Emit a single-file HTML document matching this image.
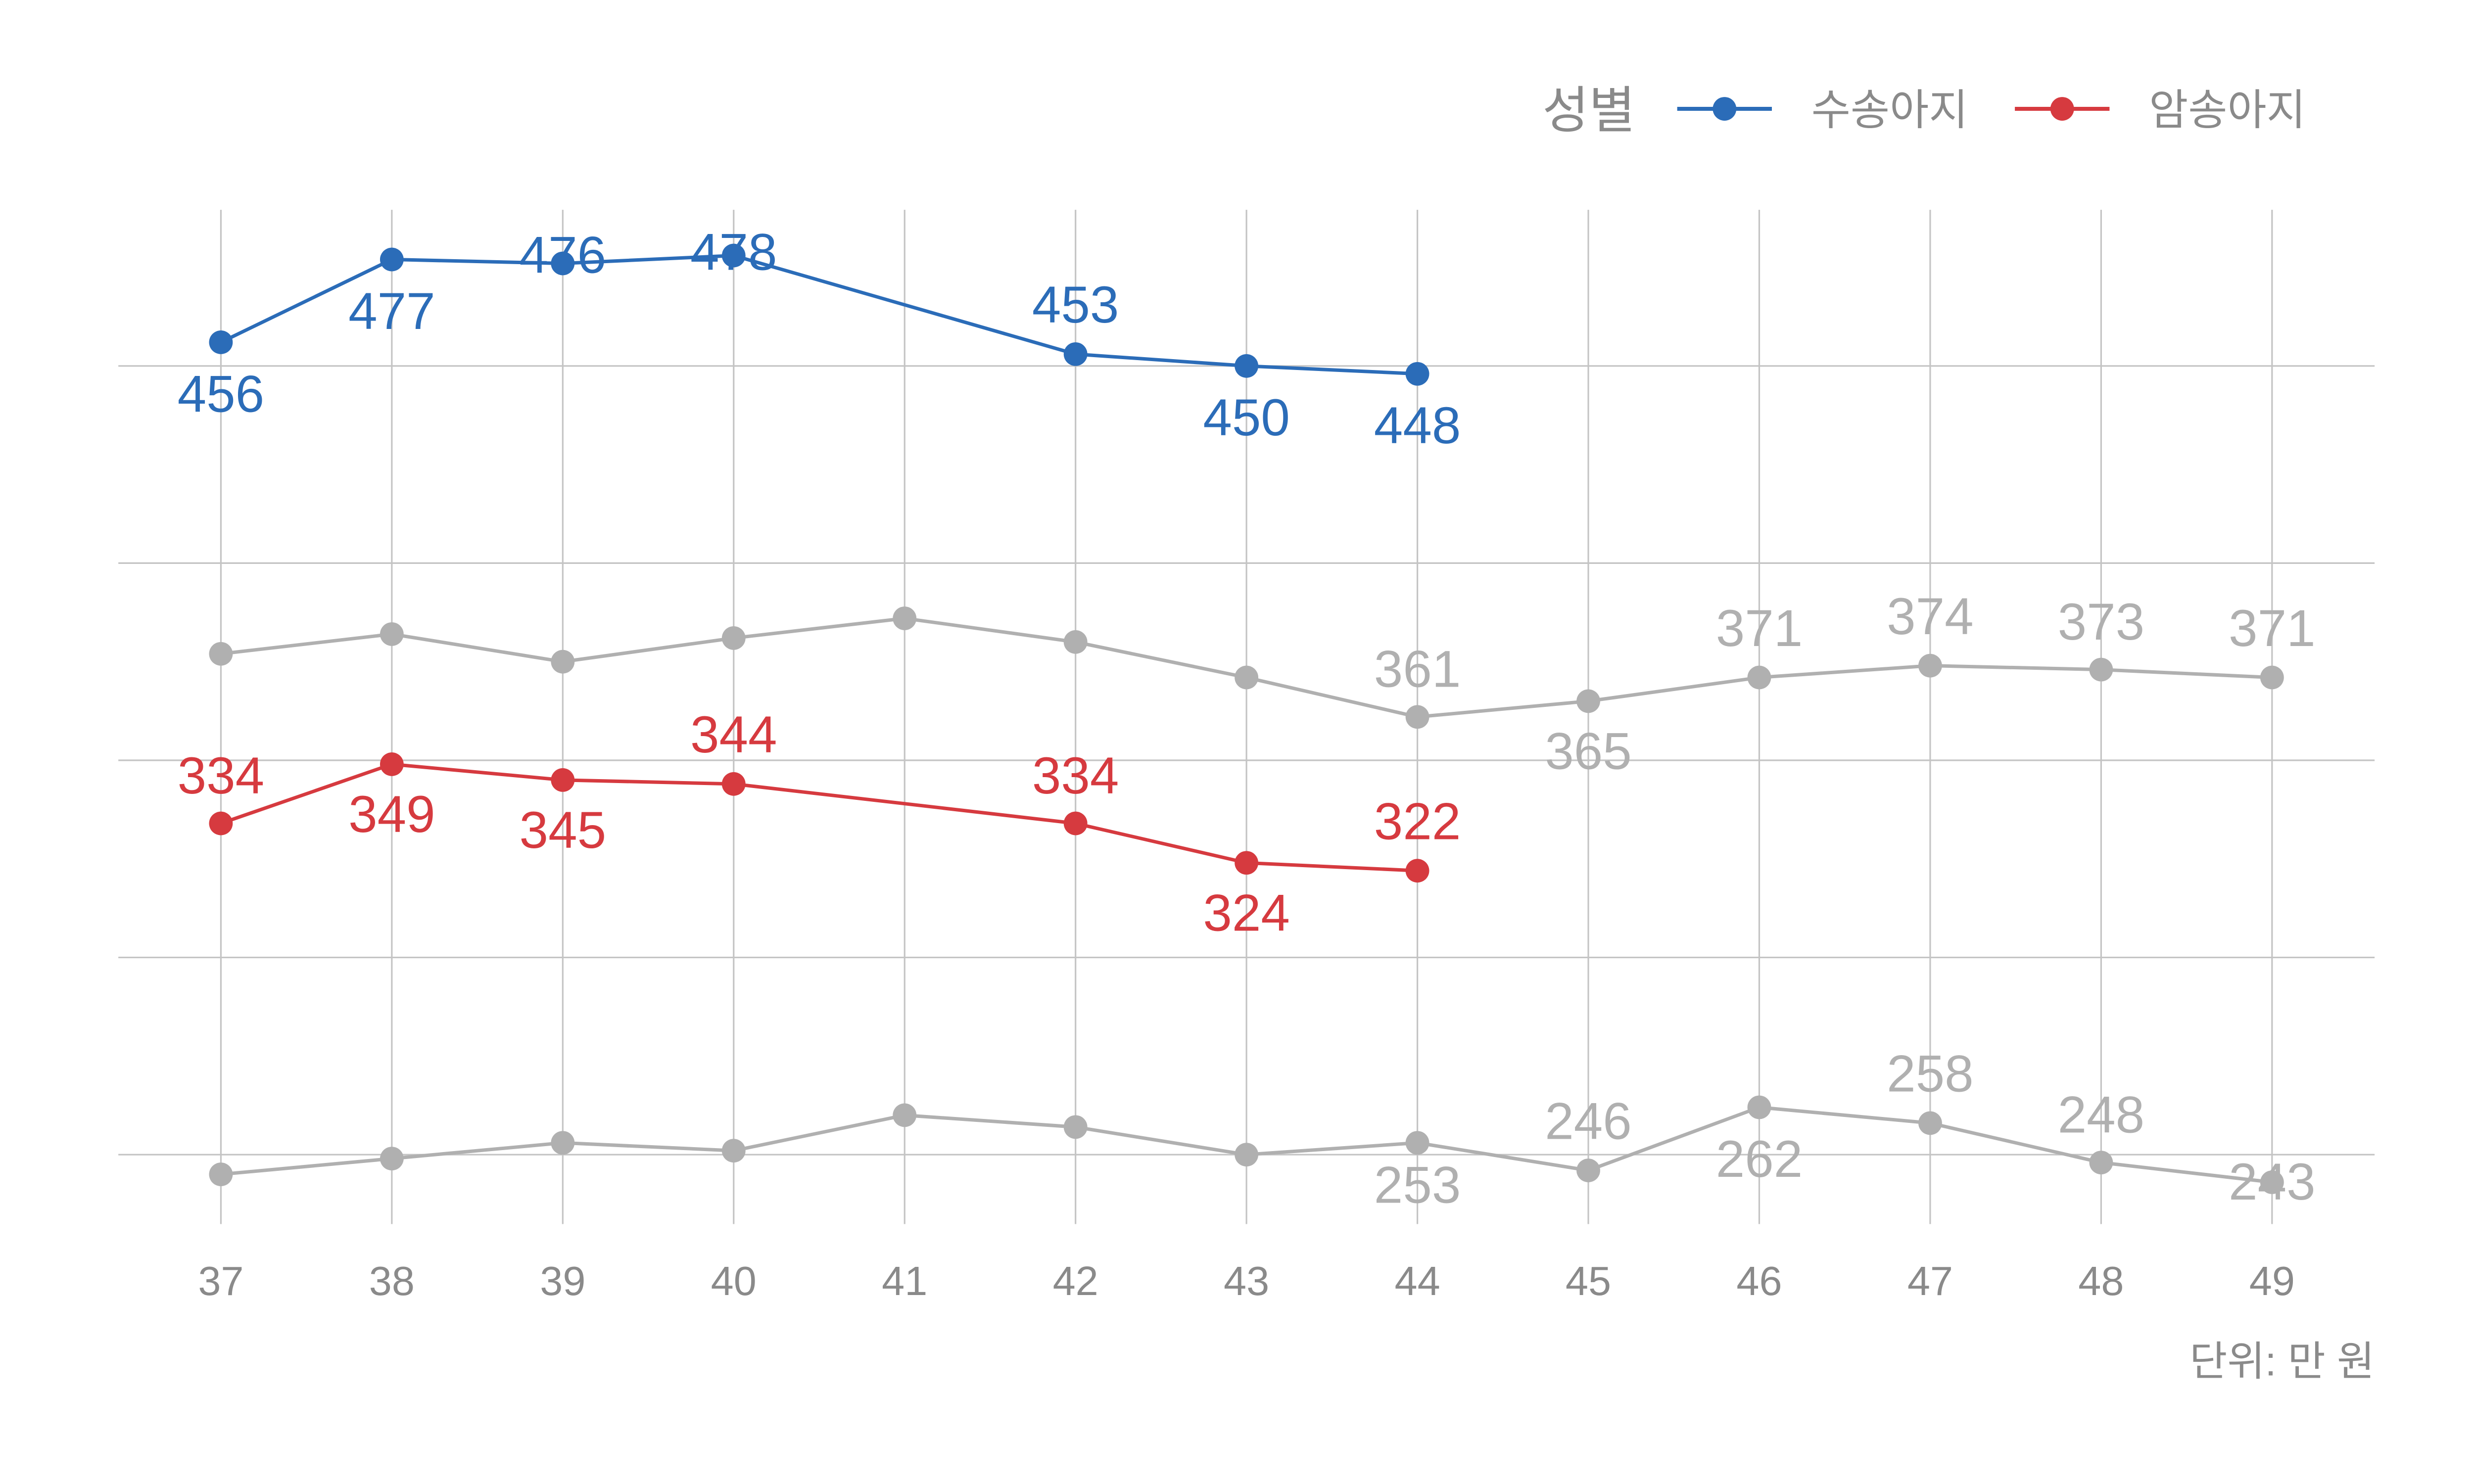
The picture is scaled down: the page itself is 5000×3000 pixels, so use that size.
<!DOCTYPE html>
<html><head><meta charset="utf-8">
<style>
html,body{margin:0;padding:0;background:#fff;}
svg{display:block;font-family:"Liberation Sans","Noto Sans CJK KR",sans-serif;}
</style></head>
<body>
<svg id="chart" width="5000" height="3000" viewBox="0 0 1568 940.8" preserveAspectRatio="none" xmlns="http://www.w3.org/2000/svg">
  <g id="grid"></g>
  <g id="series"></g>
  <g id="xticks"></g>
  <g>
    <text x="1007" y="81" font-size="32" fill="#8a8a8a" text-anchor="middle">성별</text>
    <g>
      <line x1="1063" y1="69" x2="1123" y2="69" stroke="#2b6cb8" stroke-width="2.5"/>
      <circle cx="1093" cy="69" r="7.5" fill="#2b6cb8"/>
      <text x="1148" y="79" font-size="27" fill="#8a8a8a">수송아지</text>
    </g>
    <g>
      <line x1="1277" y1="69" x2="1337" y2="69" stroke="#d63a3f" stroke-width="2.5"/>
      <circle cx="1307" cy="69" r="7.5" fill="#d63a3f"/>
      <text x="1362" y="79" font-size="27" fill="#8a8a8a">암송아지</text>
    </g>
  </g>
  <text x="1505" y="872" font-size="26" fill="#8a8a8a" text-anchor="end">단위: 만 원</text>
</svg>
<script>
const categories = [37,38,39,40,41,42,43,44,45,46,47,48,49];
const maleValues = [456,477,476,478,null,453,450,448,null,null,null,null,null];
const maleLabelDy = [33,33,-5,-2,0,-31,33,33,0,0,0,0,0];
const femaleValues = [334,349,345,344,null,334,324,322,null,null,null,null,null];
const femaleLabelDy = [-30,32,32,-31,0,-30,32,-31,0,0,0,0,0];
const grayUpperValues = [377,382,375,381,386,380,371,361,365,371,374,373,371];
const grayUpperLabels = [null,null,null,null,null,null,null,361,365,371,374,373,371];
const grayUpperDy = [0,0,0,0,0,0,0,-30,32,-31,-31,-30,-31];
const grayLowerValues = [245,249,253,251,260,257,250,253,246,262,258,248,243];
const grayLowerLabels = [null,null,null,null,null,null,null,253,246,262,258,248,243];
const grayLowerDy = [0,0,0,0,0,0,0,27,-31,33,-31,-30,0];
const gridValues = [450,400,350,300,250];

const NS = "http://www.w3.org/2000/svg";
function xScale(i){ return 140 + i*(1300/12); }
function yScale(v){ return 232 + (450 - v)*2.5; }
function mk(tag, attrs, parent){
  const el = document.createElementNS(NS, tag);
  for (const k in attrs) el.setAttribute(k, attrs[k]);
  parent.appendChild(el);
  return el;
}
const grid = document.getElementById('grid');
gridValues.forEach(v=>{
  const l = mk('line',{x1:75,x2:1505,y1:yScale(v),y2:yScale(v),stroke:'#c4c4c4','stroke-width':1},grid);
  
  
});
categories.forEach((c,i)=>{
  const l = mk('line',{x1:xScale(i),x2:xScale(i),y1:133,y2:776,stroke:'#c4c4c4','stroke-width':1},grid);
  
  
  const t = mk('text',{x:xScale(i),y:821,'font-size':26,fill:'#8a8a8a','text-anchor':'middle'},document.getElementById('xticks'));
  t.textContent = c;
  
  
});
const sg = document.getElementById('series');
function drawSeries(values, labels, dys, color, name){
  const g = mk('g',{},sg);
  
  
  const pts = [];
  values.forEach((v,i)=>{ if(v!==null) pts.push([xScale(i), yScale(v)]); });
  const pl = mk('polyline',{points:pts.map(p=>p.join(',')).join(' '),fill:'none',stroke:color,'stroke-width':2.2},g);
  
  
  values.forEach((v,i)=>{
    if(v===null) return;
    const c = mk('circle',{cx:xScale(i),cy:yScale(v),r:7.5,fill:color},g);
    
    
  });
  values.forEach((v,i)=>{
    const lab = labels[i];
    if(v===null || lab===null) return;
    const t = mk('text',{x:xScale(i),y:yScale(v)+dys[i]+11,'font-size':33,fill:color,'text-anchor':'middle'},g);
    t.textContent = lab;
    
    
  });
}
drawSeries(grayUpperValues, grayUpperLabels, grayUpperDy, '#b0b0b0', 'gray-upper-series');
drawSeries(grayLowerValues, grayLowerLabels, grayLowerDy, '#b0b0b0', 'gray-lower-series');
drawSeries(femaleValues, femaleValues, femaleLabelDy, '#d63a3f', 'female-series');
drawSeries(maleValues, maleValues, maleLabelDy, '#2b6cb8', 'male-series');
</script>
</body></html>
